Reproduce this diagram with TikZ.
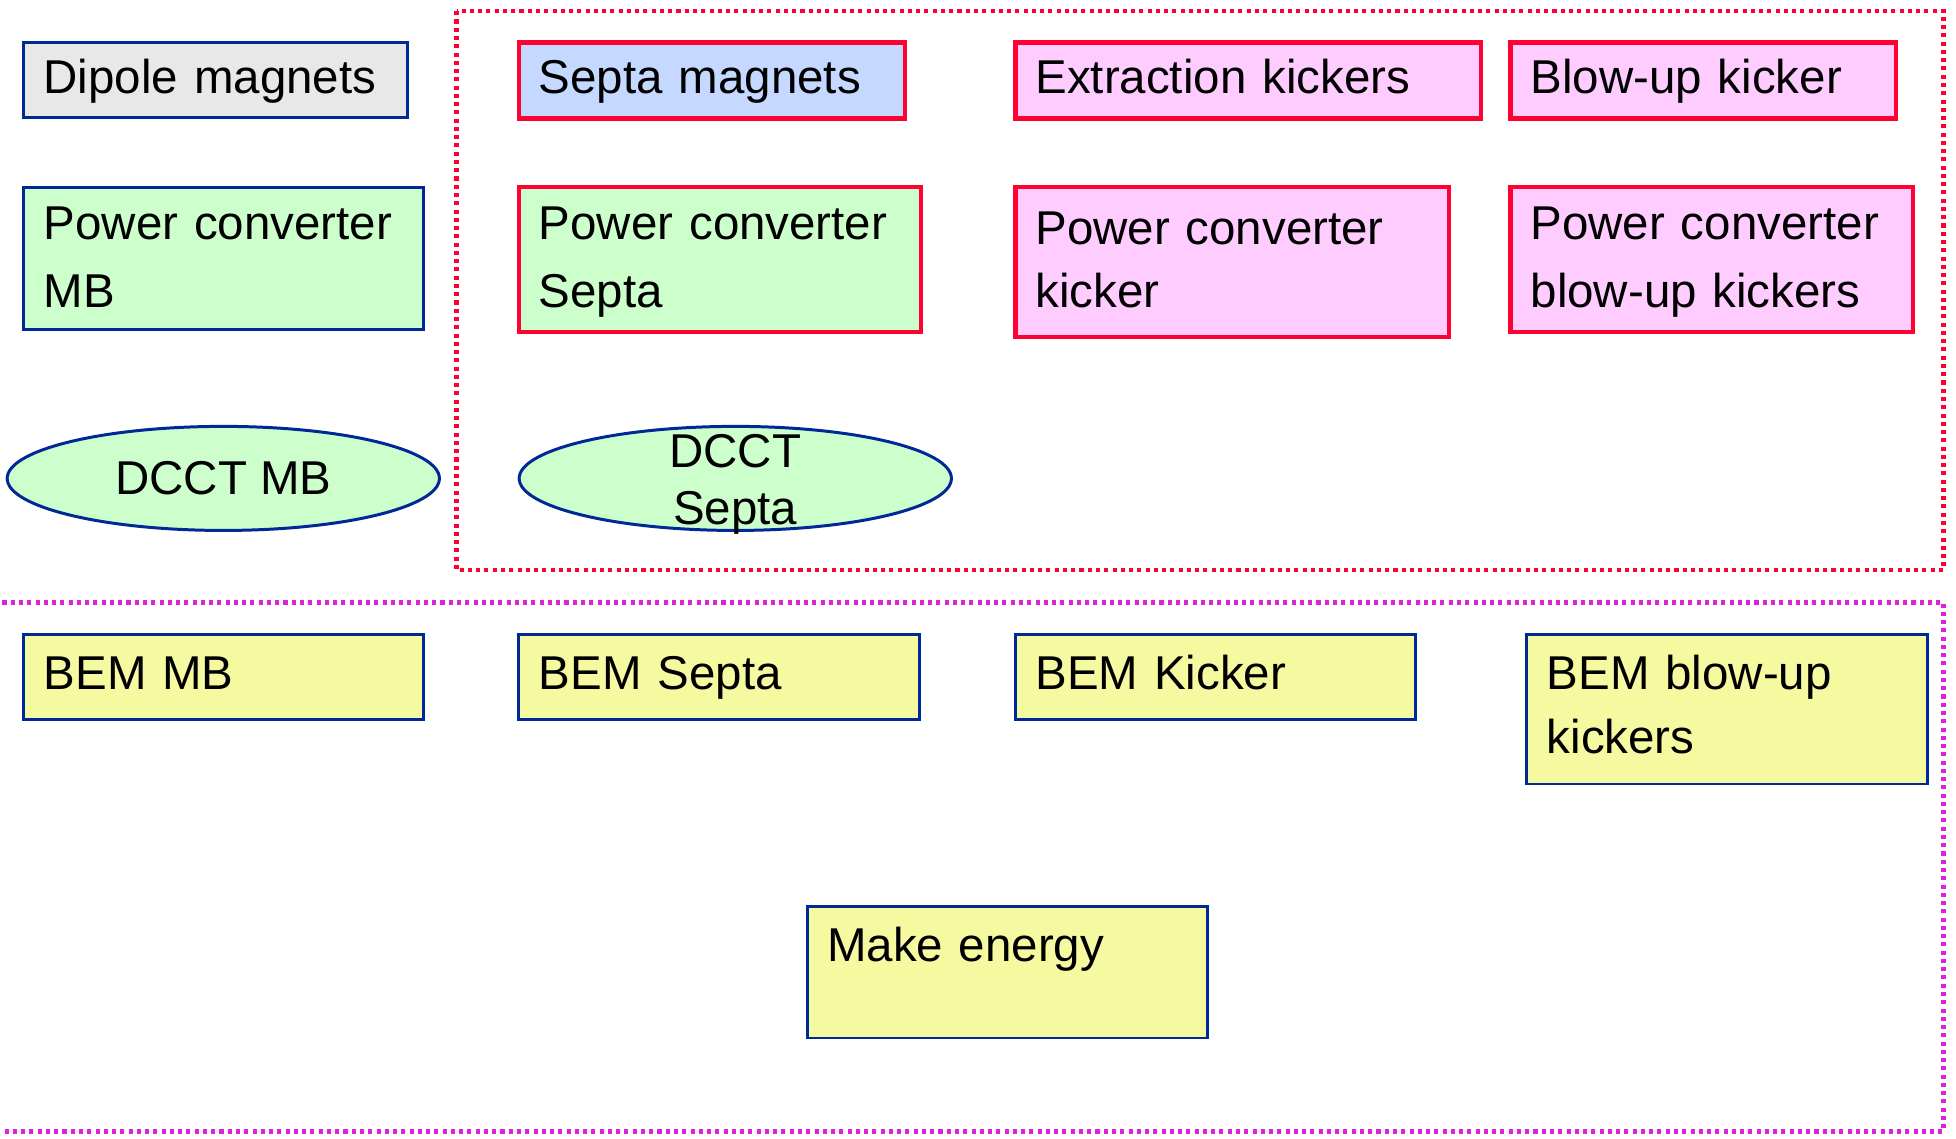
\documentclass[tikz,border=0pt]{standalone}
\usepackage{fontspec}
\setmainfont{Liberation Sans}
\usepackage{tikz}
\usetikzlibrary{shapes.geometric}

\definecolor{lineblue}{RGB}{0,40,150}
\definecolor{linered}{RGB}{255,0,51}
\definecolor{framepink}{RGB}{221,34,221}
\definecolor{fillgrey}{RGB}{232,232,232}
\definecolor{fillblue}{RGB}{197,216,255}
\definecolor{fillpink}{RGB}{255,204,255}
\definecolor{fillgreen}{RGB}{204,255,204}
\definecolor{fillyellow}{RGB}{245,250,160}

\tikzset{
  blk/.style={rectangle, draw=lineblue, line width=0.85pt, anchor=north west, outer sep=0pt,
    inner xsep=0.2cm, inner ysep=0pt, align=left, text height=0.51cm,
    font=\fontsize{13.5}{19.5}\selectfont},
  redblk/.style={blk, draw=linered, line width=1.2pt},
  dcct/.style={ellipse, draw=lineblue, line width=0.85pt, fill=fillgreen, inner sep=0pt,
    minimum width=4.32cm, minimum height=1.04cm, font=\fontsize{13.5}{16}\selectfont},
  frame/.style={line width=1.2pt, dash pattern=on 1.15pt off 1.2pt}
}

\begin{document}
\begin{tikzpicture}[x=0.01cm, y=-0.01cm]
\useasboundingbox (0,0) rectangle (1956,1138);

% Dotted frames
\draw[frame, linered] (456.5,11.2) rectangle (1943.5,570);
\draw[frame, framepink] (2.5,602.5) -- (1943.5,602.5) -- (1943.5,1131.4) -- (2.5,1131.4);

% Magnets
\node[blk, fill=fillgrey, text width=3.44cm, text depth=0.24cm] (dipole) at (23.7,42.4) {Dipole magnets};
\node[redblk, fill=fillblue, text width=3.46cm, text depth=0.25cm] (septa) at (518.9,42.4) {Septa magnets};
\node[redblk, fill=fillpink, text width=4.25cm, text depth=0.25cm] (extraction) at (1015.4,42.4) {Extraction kickers};
\node[redblk, fill=fillpink, text width=3.45cm, text depth=0.25cm] (blowup) at (1510.6,42.4) {Blow-up kicker};

% Power converters
\node[blk, fill=fillgreen, text width=3.60cm, text height=0.52cm, text depth=0.90cm] (pcmb) at (23.7,187.1) {Power converter\\MB};
\node[redblk, fill=fillgreen, text width=3.62cm, text height=0.52cm, text depth=0.93cm] (pcsepta) at (518.9,187.1) {Power converter\\Septa};
\node[redblk, fill=fillpink, text width=3.93cm, text height=0.57cm, text depth=0.93cm,
  font=\fontsize{13.5}{18.1}\selectfont] (pckicker) at (1015.4,187.1) {Power converter\\kicker};
\node[redblk, fill=fillpink, text width=3.62cm, text height=0.52cm, text depth=0.93cm] (pcblowup) at (1510.6,187.1) {Power converter\\blow-up kickers};

% DCCTs
\node[dcct] (dcctmb) at (223.3,478.4) {DCCT MB};
\node[dcct, text width=2cm, align=center, text height=0.2cm, text depth=0.412cm] (dcctsepta) at (735.3,478.4) {DCCT\\Septa};

% BEMs
\node[blk, fill=fillyellow, text width=3.60cm, text height=0.55cm, text depth=0.30cm] (bemmb) at (23.7,634.9) {BEM MB};
\node[blk, fill=fillyellow, text width=3.60cm, text height=0.55cm, text depth=0.30cm] (bemsepta) at (518.9,634.9) {BEM Septa};
\node[blk, fill=fillyellow, text width=3.60cm, text height=0.55cm, text depth=0.30cm] (bemkicker) at (1015.4,634.9) {BEM Kicker};
\node[blk, fill=fillyellow, text width=3.60cm, text height=0.55cm, text depth=0.94cm,
  font=\fontsize{13.5}{18.1}\selectfont] (bemblowup) at (1526.8,634.9) {BEM blow-up\\kickers};
\node[blk, fill=fillyellow, text width=3.60cm, text height=0.55cm, text depth=0.76cm] (energy) at (807.1,906.9) {Make energy};
\end{tikzpicture}
\end{document}
